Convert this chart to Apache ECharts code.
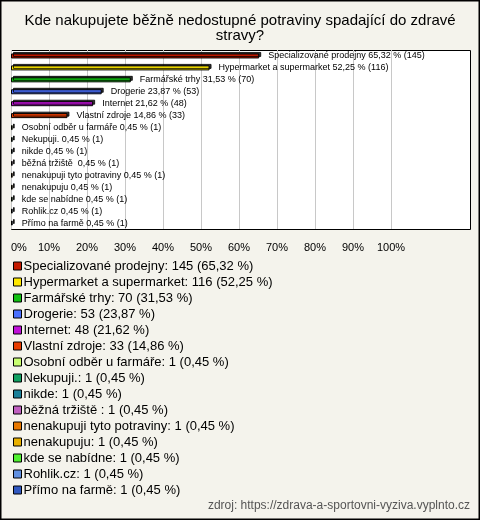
<!DOCTYPE html>
<html>
<head>
<meta charset="utf-8">
<script src="https://cdn.jsdelivr.net/npm/echarts@6/dist/echarts.min.js"></script>
<style>
html,body{margin:0;padding:0;background:#f4f3ec;}
#c{width:480px;height:520px;}
</style>
</head>
<body>
<div id="c"></div>
<script>
const categories = [
  "Specializované prodejny",
  "Hypermarket a supermarket",
  "Farmářské trhy",
  "Drogerie",
  "Internet",
  "Vlastní zdroje",
  "Osobní odběr u farmáře",
  "Nekupuji.",
  "nikde",
  "běžná tržiště ",
  "nenakupuji tyto potraviny",
  "nenakupuju",
  "kde se nabídne",
  "Rohlik.cz",
  "Přímo na farmě"
];
const counts = [145, 116, 70, 53, 48, 33, 1, 1, 1, 1, 1, 1, 1, 1, 1];
const percents = [65.32, 52.25, 31.53, 23.87, 21.62, 14.86, 0.45, 0.45, 0.45, 0.45, 0.45, 0.45, 0.45, 0.45, 0.45];

const colors = ["#c41a00", "#ffe800", "#11c011", "#4a70ff", "#c010d8", "#e83c00", "#c8ff70",
  "#10a060", "#1a8098", "#c060c0", "#e87800", "#e8b000", "#50f030", "#6090e0", "#3058c0"];

const fmtPct = v => v.toFixed(2).replace('.', ',');

const series = categories.map((name, i) => ({
  name: name,
  type: 'bar',
  xAxisIndex: 1,
  yAxisIndex: 1,
  barWidth: 5,
  barGap: '-100%',
  data: categories.map((c, j) => (j === i ? percents[i] : null)),
  itemStyle: {
    color: colors[i],
    borderColor: '#000',
    borderWidth: 1,
    shadowColor: 'rgba(0,0,0,0.8)',
    shadowBlur: 0,
    shadowOffsetX: 2,
    shadowOffsetY: -1.5
  },
  label: {
    show: true,
    position: 'right',
    distance: 9,
    fontFamily: 'Liberation Sans',
    fontSize: 9,
    color: '#000',
    formatter: () => name + ' ' + fmtPct(percents[i]) + ' % (' + counts[i] + ')'
  },
  emphasis: { disabled: true },
  animation: false
}));

const chart = echarts.init(document.getElementById('c'), null, { renderer: 'canvas' });
chart.setOption({
  backgroundColor: '#f4f3ec',
  animation: false,
  color: colors,
  grid: [
    {
      left: 11.5, right: 9.5, top: 50.5, bottom: 290.5,
      show: true,
      backgroundColor: '#fff',
      borderColor: '#000',
      borderWidth: 1
    },
    {
      left: 11, right: 89, top: 50, bottom: 291,
      show: false
    }
  ],
  xAxis: [
    { gridIndex: 0, type: 'value', min: 0, max: 1, show: false },
    {
      gridIndex: 1,
      type: 'value',
      min: 0,
      max: 100,
      interval: 10,
      axisLine: { show: false },
      axisTick: { show: false },
      splitLine: { show: true, lineStyle: { color: '#c8c8c8', width: 1 } },
      axisLabel: {
        margin: 13,
        fontFamily: 'Liberation Sans',
        fontSize: 11,
        color: '#000',
        alignMinLabel: 'left',
        formatter: v => v + '%'
      }
    }
  ],
  yAxis: [
    { gridIndex: 0, type: 'value', min: 0, max: 1, show: false },
    {
      gridIndex: 1,
      type: 'category',
      data: categories,
      inverse: true,
      axisLine: { show: false },
      axisTick: { show: false },
      axisLabel: { show: false },
      splitLine: { show: false }
    }
  ],
  legend: {
    show: true,
    orient: 'vertical',
    left: 8,
    top: 253,
    itemWidth: 8,
    itemHeight: 8,
    itemGap: 0,
    icon: 'rect',
    selectedMode: false,
    itemStyle: {
      borderColor: '#000',
      borderWidth: 1,
      shadowBlur: 0,
      shadowOffsetX: 0,
      shadowOffsetY: 0,
      shadowColor: 'rgba(0,0,0,0)'
    },
    textStyle: {
      fontFamily: 'Liberation Sans',
      fontSize: 13,
      color: '#000',
      lineHeight: 16,
      padding: [0, 0, 0, -3]
    },
    formatter: name => {
      const i = categories.indexOf(name);
      return name + ': ' + counts[i] + ' (' + fmtPct(percents[i]) + ' %)';
    },
    data: categories
  },
  graphic: [
    {
      type: 'text',
      x: 240,
      y: 13,
      style: {
        text: 'Kde nakupujete běžně nedostupné potraviny spadající do zdravé\nstravy?',
        fontFamily: 'Liberation Sans',
        fontSize: 15,
        lineHeight: 15,
        fill: '#000',
        align: 'center',
        verticalAlign: 'top'
      }
    },
    {
      type: 'text',
      right: 10,
      top: 500,
      style: {
        text: 'zdroj: https://zdrava-a-sportovni-vyziva.vyplnto.cz',
        fontFamily: 'Liberation Sans',
        fontSize: 12,
        fill: '#555'
      }
    },
    {
      type: 'rect',
      shape: { x: 0.75, y: 0.75, width: 478.5, height: 518.5 },
      style: { fill: 'none', stroke: '#000', lineWidth: 1.5 },
      silent: true,
      z: 100
    }
  ],
  series: series
});
</script>
</body>
</html>
